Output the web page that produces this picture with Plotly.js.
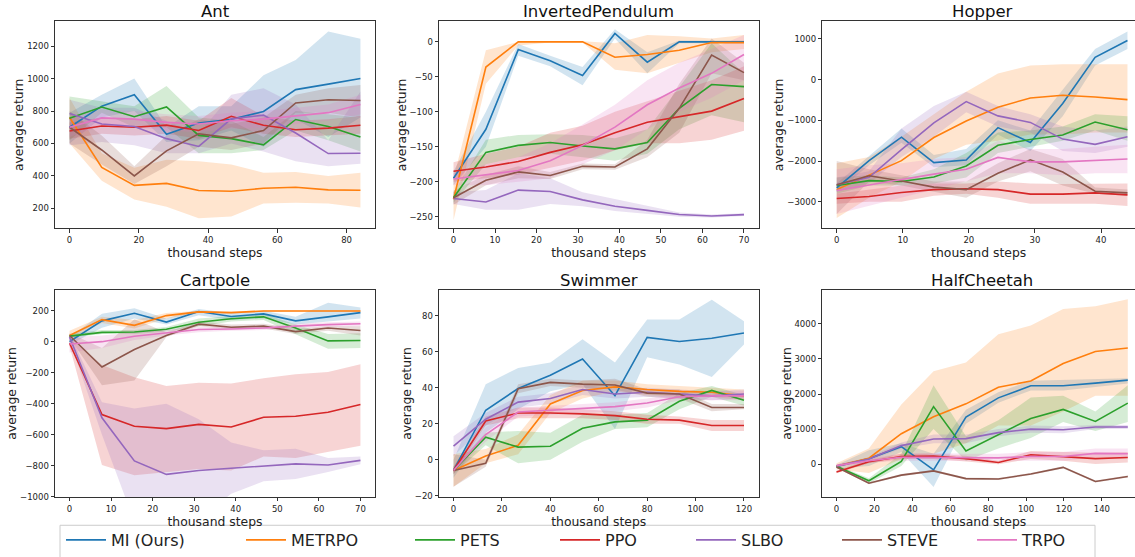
<!DOCTYPE html>
<html>
<head>
<meta charset="utf-8">
<script src="https://cdn.plot.ly/plotly-3.0.1.min.js"></script>
<style>
html,body{margin:0;padding:0;overflow:hidden;background:#fff;}
#chart{width:1135px;height:557px;}
</style>
</head>
<body>
<div id="chart"></div>
<script>
const methods = ['MI (Ours)', 'METRPO', 'PETS', 'PPO', 'SLBO', 'STEVE', 'TRPO'];
const colors = ['#1f77b4', '#ff7f0e', '#2ca02c', '#d62728', '#9467bd', '#8c564b', '#e377c2'];
const titles = ['Ant', 'InvertedPendulum', 'Hopper', 'Cartpole', 'Swimmer', 'HalfCheetah'];

// ---------- Ant ----------
const antX = [0, 9.3, 18.7, 28, 37.3, 46.7, 56, 65.3, 74.7, 84];
const antMean = [
  [700, 830, 901, 657, 726, 749, 797, 932, 966, 1001],
  [760, 452, 342, 354, 310, 306, 324, 330, 314, 312],
  [755, 825, 765, 825, 650, 630, 592, 748, 705, 640],
  [677, 708, 700, 713, 680, 768, 712, 685, 695, 712],
  [785, 720, 705, 630, 582, 752, 775, 665, 538, 540],
  [700, 560, 400, 555, 660, 635, 680, 850, 870, 865],
  [700, 758, 750, 730, 720, 740, 750, 770, 790, 840]
];
const antLo = [
  [600, 760, 800, 610, 620, 680, 580, 750, 640, 760],
  [600, 370, 255, 210, 140, 150, 230, 235, 230, 205],
  [620, 790, 700, 700, 540, 540, 560, 680, 620, 550],
  [630, 660, 650, 660, 630, 700, 660, 640, 650, 660],
  [590, 610, 590, 540, 540, 600, 550, 490, 460, 475],
  [600, 470, 350, 460, 580, 560, 600, 790, 790, 760],
  [640, 710, 700, 680, 670, 690, 700, 720, 740, 780]
];
const antHi = [
  [790, 900, 1000, 700, 830, 830, 1020, 1115, 1290, 1245],
  [880, 540, 450, 500, 490, 470, 420, 425, 400, 420],
  [890, 860, 830, 955, 760, 740, 640, 800, 780, 760],
  [730, 760, 750, 770, 740, 880, 770, 740, 750, 770],
  [870, 820, 820, 740, 660, 900, 940, 840, 620, 920],
  [800, 650, 460, 650, 750, 720, 760, 900, 940, 960],
  [760, 810, 800, 780, 770, 790, 800, 820, 840, 900]
];

// ---------- InvertedPendulum ----------
const ipX = [0, 7.8, 15.6, 23.3, 31.1, 38.9, 46.7, 54.4, 62.2, 70];
const ipMean = [
  [-195, -125, -11, -27, -48, 12, -29, 0, 0, 0],
  [-225, -36, 0, 0, 0, -22, -18, -12, -1, -1],
  [-223, -158, -148, -144, -149, -153, -144, -95, -61, -64],
  [-185, -179, -171, -158, -147, -130, -115, -107, -99, -81],
  [-224, -229, -212, -214, -226, -235, -241, -247, -249, -247],
  [-223, -198, -186, -191, -178, -179, -153, -95, -19, -44],
  [-196, -190, -184, -170, -148, -122, -90, -66, -45, -18]
];
const ipLo = [
  [-205, -150, -20, -35, -62, 5, -45, -2, -2, -2],
  [-255, -60, -5, -1, -1, -40, -45, -30, -15, -10],
  [-230, -175, -165, -160, -165, -170, -160, -125, -105, -115],
  [-200, -195, -190, -180, -170, -155, -145, -145, -140, -127],
  [-232, -240, -240, -232, -235, -242, -246, -250, -251, -249],
  [-233, -205, -195, -196, -182, -183, -165, -130, -45, -55],
  [-205, -205, -200, -195, -175, -155, -125, -100, -80, -55]
];
const ipHi = [
  [-185, -100, -3, -20, -36, 18, -15, 2, 2, 2],
  [-195, -12, 0, 1, 1, -2, 10, 8, 5, 10],
  [-215, -140, -133, -132, -133, -138, -125, -65, -2, -45],
  [-172, -160, -150, -130, -120, -100, -85, -70, -55, -35],
  [-215, -212, -188, -195, -215, -225, -235, -244, -247, -245],
  [-213, -190, -178, -186, -174, -175, -140, -60, 5, -30],
  [-188, -175, -165, -145, -118, -90, -55, -30, -10, 10]
];

// ---------- Hopper ----------
const hopX = [0, 4.9, 9.8, 14.7, 19.6, 24.4, 29.3, 34.2, 39.1, 44];
const hopMean = [
  [-2660, -1988, -1413, -2036, -1972, -1178, -1543, -587, 547, 960],
  [-2700, -2336, -1988, -1421, -1016, -676, -450, -385, -425, -490],
  [-2600, -2480, -2500, -2390, -2120, -1610, -1470, -1360, -1040, -1230],
  [-2919, -2870, -2770, -2700, -2680, -2700, -2810, -2810, -2780, -2830],
  [-2580, -2400, -1720, -1060, -540, -890, -1050, -1460, -1590, -1400],
  [-2580, -2360, -2490, -2640, -2700, -2300, -1970, -2270, -2740, -2780],
  [-2720, -2580, -2450, -2320, -2200, -1910, -2020, -2020, -1980, -1950]
];
const hopLo = [
  [-2750, -2100, -1550, -2150, -2100, -1350, -1750, -900, 350, 750],
  [-3400, -2900, -2500, -1950, -1600, -1500, -1350, -1350, -1300, -1300],
  [-2800, -2600, -2600, -2550, -2400, -1800, -1650, -1500, -1250, -1500],
  [-3050, -3000, -3000, -2850, -2800, -2900, -3050, -3050, -3050, -3100],
  [-2750, -2550, -1900, -1400, -800, -1150, -1300, -1750, -1800, -1650],
  [-3300, -2500, -2600, -2750, -2900, -2500, -2250, -2600, -2800, -2850],
  [-3300, -3100, -2900, -2700, -2500, -2300, -2300, -2350, -2300, -2300]
];
const hopHi = [
  [-2550, -1880, -1200, -1850, -1700, -1000, -1250, -250, 750, 1180],
  [-2050, -1900, -1400, -850, -300, 150, 350, 380, 380, 380],
  [-2400, -2350, -2400, -2200, -1800, -1300, -1250, -1150, -850, -900],
  [-2800, -2700, -2600, -2550, -2550, -2500, -2550, -2560, -2550, -2550],
  [-2400, -2250, -1200, -650, -300, -650, -850, -1150, -1250, -1150],
  [-2000, -2200, -2350, -2500, -2500, -2050, -1700, -1950, -2650, -2700],
  [-2200, -2100, -2050, -1950, -1900, -1500, -1700, -1700, -1650, -1600]
];

// ---------- Cartpole ----------
const cpX = [0, 7.8, 15.6, 23.3, 31.1, 38.9, 46.7, 54.4, 62.2, 70];
const cpMean = [
  [0, 134, 183, 126, 194, 162, 179, 134, 160, 187],
  [40, 142, 105, 168, 192, 187, 198, 198, 198, 198],
  [36, 60, 62, 80, 125, 148, 160, 88, 5, 8],
  [-10, -470, -545, -560, -533, -550, -487, -480, -455, -405],
  [30, -490, -768, -855, -830, -815, -798, -787, -795, -765],
  [40, -163, -50, 40, 113, 93, 100, 65, 88, 72],
  [-15, 0, 35, 58, 78, 82, 88, 100, 110, 115]
];
const cpLo = [
  [-20, 90, 150, 110, 170, 140, 150, 110, 130, 150],
  [20, 120, 85, 150, 185, 180, 195, 195, 195, 195],
  [25, 50, 50, 65, 100, 130, 140, 50, -45, -40],
  [-30, -795, -860, -840, -820, -830, -740, -750, -710, -670],
  [10, -600, -1160, -1300, -1150, -980, -900, -885, -840, -790],
  [25, -280, -250, 30, 100, 80, 85, 50, 70, 40],
  [-70, -40, 10, 40, 60, 70, 75, 90, 95, 100]
];
const cpHi = [
  [30, 180, 215, 150, 210, 185, 200, 160, 250, 220],
  [70, 160, 140, 185, 200, 195, 202, 202, 202, 202],
  [50, 75, 75, 95, 150, 165, 180, 110, 50, 55],
  [20, -150, -230, -285, -265, -270, -235, -210, -195, -145],
  [50, -390, -430, -400, -500, -650, -700, -690, -750, -740],
  [55, -40, 145, 60, 130, 110, 115, 85, 100, 100],
  [30, 40, 60, 75, 95, 95, 100, 115, 125, 130]
];

// ---------- Swimmer ----------
const swX = [0, 13.3, 26.7, 40, 53.3, 66.7, 80, 93.3, 106.7, 120];
const swMean = [
  [-6, 27.5, 39.6, 47, 56, 35.6, 68, 65.7, 67.5, 70.5],
  [-6, 2, 8, 31, 38.5, 40.5, 39, 38, 37.5, 35.5],
  [-6, 12.5, 7, 7.5, 17.5, 21, 22, 32.5, 38.5, 33],
  [-6, 21.5, 26, 26, 25.5, 24.5, 22.5, 22, 19, 19],
  [7.5, 22.5, 32, 34, 39, 36.5, 37.5, 36.5, 35.5, 36.5],
  [-6, -2, 39.5, 43, 42, 41.5, 37, 36.5, 29, 29],
  [-6, 14, 26.5, 27.5, 28.5, 29.5, 31.5, 35, 35.5, 35.5]
];
const swLo = [
  [-10, 15, 28, 38, 42, 17, 57, 53, 46, 64],
  [-15, -2, 3, 26, 34, 38, 36, 35, 35, 33],
  [-8, 8, -2, 0, 10, 17, 18, 28, 35, 30],
  [-8, 19, 23, 23, 23, 22, 20, 20, 16, 16],
  [2, 19, 29, 31, 36, 34, 35, 34, 33, 34],
  [-15, -4, 37, 41, 40, 39, 35, 34, 27, 28],
  [-8, 10, 24, 25, 26, 27, 29, 33, 33, 33]
];
const swHi = [
  [0, 42, 51, 54, 67, 54, 78, 78, 89, 77],
  [3, 6, 14, 36, 44, 44, 42, 41, 40, 39],
  [-4, 15, 16, 15, 25, 25, 26, 37, 41, 36],
  [-4, 24, 29, 29, 28, 27, 25, 24, 22, 22],
  [13, 26, 35, 37, 42, 39, 40, 39, 38, 39],
  [3, 0, 42, 45, 44, 45, 39, 39, 31, 31],
  [-4, 18, 29, 30, 31, 32, 34, 37, 38, 38]
];

// ---------- HalfCheetah ----------
const hcX = [0, 17.1, 34.2, 51.2, 68.3, 85.4, 102.5, 119.6, 136.6, 153.7];
const hcMean = [
  [-65, 160, 500, -160, 1340, 1890, 2235, 2235, 2310, 2395],
  [-50, 170, 870, 1350, 1720, 2190, 2370, 2870, 3210, 3310],
  [-60, -470, 80, 1640, 380, 840, 1300, 1560, 1220, 1740],
  [-220, 70, 220, 230, 160, 50, 270, 220, 160, 190],
  [-50, 150, 530, 720, 730, 900, 1000, 980, 1060, 1060],
  [-80, -540, -310, -190, -410, -420, -280, -90, -490, -350],
  [-40, 100, 200, 200, 200, 180, 220, 220, 310, 300]
];
const hcLo = [
  [-120, -50, 350, -650, 1150, 1750, 2100, 2100, 2200, 2300],
  [-150, -250, 150, 300, 600, 1100, 1100, 1500, 1950, 1950],
  [-100, -550, -50, 1000, 100, 450, 750, 1200, 950, 1200],
  [-260, 30, 150, 150, 80, 0, 150, 100, 10, 50],
  [-80, 100, 450, 600, 600, 800, 900, 880, 1000, 1000],
  [-110, -570, -340, -220, -440, -450, -310, -120, -520, -380],
  [-80, 40, 100, 100, 100, 80, 100, 100, 200, 200]
];
const hcHi = [
  [-20, 400, 600, 300, 1550, 2050, 2380, 2400, 2420, 2450],
  [30, 450, 1700, 2650, 2900, 3700, 3950, 4420, 4500, 4700],
  [-20, -400, 300, 2250, 800, 1250, 1900, 1950, 1500, 2250],
  [-180, 120, 300, 300, 240, 100, 380, 350, 330, 350],
  [-20, 200, 620, 850, 850, 1000, 1100, 1080, 1120, 1120],
  [-50, -510, -280, -160, -380, -390, -250, -60, -460, -320],
  [0, 170, 300, 320, 300, 300, 350, 350, 450, 450]
];

const envs = [
  {x: antX, mean: antMean, lo: antLo, hi: antHi},
  {x: ipX, mean: ipMean, lo: ipLo, hi: ipHi},
  {x: hopX, mean: hopMean, lo: hopLo, hi: hopHi},
  {x: cpX, mean: cpMean, lo: cpLo, hi: cpHi},
  {x: swX, mean: swMean, lo: swLo, hi: swHi},
  {x: hcX, mean: hcMean, lo: hcLo, hi: hcHi}
];

// ---------- layout geometry (pixels) ----------
const W = 1135, H = 557;
const colPx = [[55, 375], [439, 758.5], [822.3, 1135]];
const rowPx = [[21.7, 230.7], [293.3, 502.3]];
const xRanges = [[-4.2, 88.2], [-3.5, 73.5], [-2.18, 45.14], [-3.5, 73.5], [-6, 126], [-7.5, 157.5]];
const yRanges = [[78, 1352], [-266.5, 29.2], [-3648, 1428], [-1000, 332], [-20.7, 94.3], [-930, 4958]];
const xDticks = [20, 10, 10, 10, 20, 20];
const yDticks = [200, 50, 1000, 200, 20, 1000];

function rgba(hex, a) {
  const r = parseInt(hex.slice(1, 3), 16), g = parseInt(hex.slice(3, 5), 16), b = parseInt(hex.slice(5, 7), 16);
  return 'rgba(' + r + ',' + g + ',' + b + ',' + a + ')';
}

const FONT = 'DejaVu Sans, Liberation Sans, sans-serif';
const traces = [];
const layout = {
  width: W, height: H,
  margin: {l: 0, r: 0, t: 0, b: 0},
  paper_bgcolor: '#fff', plot_bgcolor: '#fff',
  font: {family: FONT, color: '#222'},
  showlegend: true,
  annotations: [],
  shapes: []
};

envs.forEach((env, i) => {
  const n = i + 1;
  const xa = 'x' + (n === 1 ? '' : n), ya = 'y' + (n === 1 ? '' : n);
  const col = colPx[i % 3], row = rowPx[Math.floor(i / 3)];
  const xdom = [col[0] / W, col[1] / W];
  const ydom = [(H - row[1]) / H, (H - row[0]) / H];
  const rightCut = (i % 3) === 2; // right column is cropped at the page edge
  const axBase = {
    showline: true, mirror: true, linecolor: '#333', linewidth: 1,
    ticks: 'outside', ticklen: 3.5, tickwidth: 1, tickcolor: '#333',
    showgrid: false, zeroline: false,
    tickfont: {family: FONT, size: 8.5, color: '#222'},
    tickmode: 'linear', tick0: 0, fixedrange: true
  };
  layout['xaxis' + (n === 1 ? '' : n)] = Object.assign({}, axBase, {
    domain: xdom, range: xRanges[i], dtick: xDticks[i], anchor: ya,
    title: {text: 'thousand steps', font: {family: FONT, size: 12.4, color: '#222'}, standoff: 4}
  });
  layout['yaxis' + (n === 1 ? '' : n)] = Object.assign({}, axBase, {
    domain: ydom, range: yRanges[i], dtick: yDticks[i], anchor: xa,
    mirror: rightCut ? false : true,
    title: {text: 'average return', font: {family: FONT, size: 12.4, color: '#222'}, standoff: 0}
  });
  layout.annotations.push({
    text: titles[i], xref: 'paper', yref: 'paper',
    x: ((rightCut ? 1142 : col[1]) + col[0]) / 2 / W, y: (H - (row[0] - 10)) / H,
    xanchor: 'center', yanchor: 'middle', showarrow: false,
    font: {family: FONT, size: 16.5, color: '#111'}
  });
  // bands
  methods.forEach((m, k) => {
    const xs = env.x;
    traces.push({
      x: xs.concat(xs.slice().reverse()),
      y: env.hi[k].concat(env.lo[k].slice().reverse()),
      xaxis: xa, yaxis: ya, type: 'scatter', mode: 'lines',
      fill: 'toself', fillcolor: rgba(colors[k], 0.2),
      line: {width: 0, color: rgba(colors[k], 0)},
      hoverinfo: 'skip', showlegend: false
    });
  });
  // lines
  methods.forEach((m, k) => {
    const t = {
      x: env.x, y: env.mean[k], name: m,
      xaxis: xa, yaxis: ya, type: 'scatter', mode: 'lines',
      line: {color: colors[k], width: 1.6},
      showlegend: i === 0
    };
    if (i === 0) t.legend = k === 0 ? 'legend' : 'legend' + (k + 1);
    traces.push(t);
  });
});

// legends: one per method, positioned along the bottom
const legendStarts = [67, 247, 416, 561, 697, 843, 978];
legendStarts.forEach((px, k) => {
  const key = k === 0 ? 'legend' : 'legend' + (k + 1);
  layout[key] = {
    x: (px - 6) / W, y: (H - 546) / H, xanchor: 'left', yanchor: 'middle',
    orientation: 'h', bgcolor: 'rgba(0,0,0,0)', borderwidth: 0, itemwidth: 40,
    font: {family: FONT, size: 16, color: '#222'}
  };
});
layout.shapes.push({
  type: 'rect', xref: 'paper', yref: 'paper',
  x0: 60 / W, x1: 1095 / W, y0: -10 / H, y1: (H - 531) / H,
  line: {color: '#cccccc', width: 1}, fillcolor: 'rgba(255,255,255,0.8)', layer: 'above'
});

Plotly.newPlot('chart', traces, layout, {displayModeBar: false, staticPlot: true});
</script>
</body>
</html>
